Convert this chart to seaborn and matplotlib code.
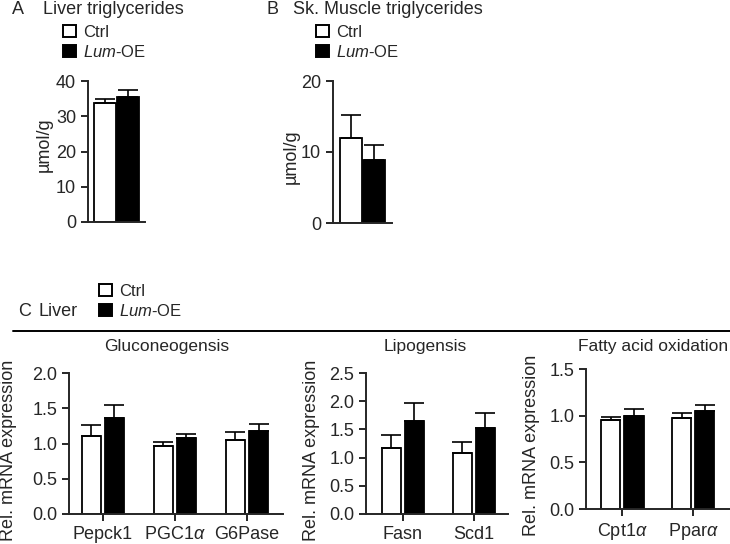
import pandas as pd
import seaborn as sns
import matplotlib.pyplot as plt
from matplotlib.lines import Line2D
from matplotlib.patches import Patch

# values (mean, upper SEM end)
groups = ['Ctrl', 'Lum-OE']

liver_tg = [33.8, 35.5]
liver_tg_err = [34.9, 37.5]

muscle_tg = [12.0, 8.9]
muscle_tg_err = [15.2, 11.0]

gluco_genes = ['Pepck1', 'PGC1$\\alpha$', 'G6Pase']
gluco_ctrl = [1.11, 0.97, 1.05]
gluco_ctrl_err = [1.26, 1.02, 1.16]
gluco_lum = [1.36, 1.08, 1.18]
gluco_lum_err = [1.54, 1.13, 1.28]

lipo_genes = ['Fasn', 'Scd1']
lipo_ctrl = [1.17, 1.08]
lipo_ctrl_err = [1.40, 1.28]
lipo_lum = [1.65, 1.52]
lipo_lum_err = [1.97, 1.79]

fao_genes = ['Cpt1$\\alpha$', 'Ppar$\\alpha$']
fao_ctrl = [0.95, 0.98]
fao_ctrl_err = [0.99, 1.03]
fao_lum = [1.00, 1.05]
fao_lum_err = [1.07, 1.11]

sns.set_style('ticks')
plt.rcParams['font.family'] = ['Liberation Sans', 'DejaVu Sans']
plt.rcParams['mathtext.fontset'] = 'custom'
plt.rcParams['mathtext.rm'] = 'Liberation Sans'
plt.rcParams['mathtext.it'] = 'Liberation Sans:italic'
plt.rcParams['axes.linewidth'] = 1.4
plt.rcParams['xtick.major.width'] = 1.4
plt.rcParams['ytick.major.width'] = 1.4
plt.rcParams['xtick.major.size'] = 5
plt.rcParams['ytick.major.size'] = 5
plt.rcParams['xtick.labelsize'] = 13
plt.rcParams['ytick.labelsize'] = 13

W, H = 730, 544
fig = plt.figure(figsize=(7.3, 5.44), dpi=100)


def px_axes(left, top, right, bottom):
    return fig.add_axes([left / W, 1 - bottom / H, (right - left) / W, (bottom - top) / H])


def px_text(x, y, s, **kw):
    kw.setdefault('fontsize', 13)
    return fig.text(x / W, 1 - y / H, s, **kw)


def make_frame(genes, ctrl, lum):
    return pd.DataFrame({
        'gene': genes * 2,
        'group': ['Ctrl'] * len(genes) + ['Lum-OE'] * len(genes),
        'value': ctrl + lum,
    })


def bars(ax, df, tops, width, gap):
    sns.barplot(data=df, x='gene', y='value', hue='group', hue_order=groups,
                palette=['white', 'black'], edgecolor='black', linewidth=1.3,
                width=width, gap=gap, errorbar=None, legend=False, ax=ax)
    for cont, top in zip(ax.containers, tops):
        xs = [p.get_x() + p.get_width() / 2 for p in cont]
        ys = [p.get_height() for p in cont]
        up = [t - y for t, y in zip(top, ys)]
        ax.errorbar(xs, ys, yerr=[[0] * len(ys), up], fmt='none', ecolor='black',
                    elinewidth=1.2, capsize=7.5, capthick=1.2, zorder=1)
    sns.despine(ax=ax)
    ax.set_xlabel('')
    ax.set_ylabel('')


def legend(ax, x, y):
    handles = [Patch(facecolor='white', edgecolor='black', linewidth=1.4),
               Patch(facecolor='black', edgecolor='black', linewidth=1.4)]
    ax.legend(handles, ['Ctrl', '$\\it{Lum}$-OE'], loc='upper left',
              bbox_to_anchor=(x / W, 1 - y / H), bbox_transform=fig.transFigure,
              frameon=False, fontsize=12, handlelength=0.75, handleheight=0.75,
              handletextpad=0.45, labelspacing=0.22, borderpad=0, borderaxespad=0)


# A: liver triglycerides
axA = px_axes(88, 81, 145, 222)
bars(axA, make_frame([''], liver_tg[:1], liver_tg[1:]),
     [liver_tg_err[:1], liver_tg_err[1:]], 0.8, 0.08)
axA.set_xlim(-0.485, 0.485)
axA.set_ylim(0, 40)
axA.set_yticks([0, 10, 20, 30, 40])
axA.set_xticks([])
px_text(44, 145, 'µmol/g', rotation=90, ha='center', va='center')
legend(axA, 63, 25)
px_text(12, 13.5, 'A', va='baseline')
px_text(43, 13.5, 'Liver triglycerides', va='baseline')

# B: skeletal muscle triglycerides
axB = px_axes(333, 81, 392, 223)
bars(axB, make_frame([''], muscle_tg[:1], muscle_tg[1:]),
     [muscle_tg_err[:1], muscle_tg_err[1:]], 0.8, 0.08)
axB.set_xlim(-0.5, 0.5)
axB.set_ylim(0, 20)
axB.set_yticks([0, 10, 20])
axB.set_xticks([])
px_text(291, 157, 'µmol/g', rotation=90, ha='center', va='center')
legend(axB, 316, 25)
px_text(266, 13.5, 'B', va='baseline')
px_text(293, 13.5, 'Sk. Muscle triglycerides', va='baseline')

# C: liver gene expression
px_text(18, 316, 'C', va='baseline')
px_text(38, 316, 'Liver', va='baseline')
fig.add_artist(Line2D([13 / W, 1], [1 - 331 / H] * 2, color='black', lw=1.4))

ax1 = px_axes(69, 373, 283, 514)
bars(ax1, make_frame(gluco_genes, gluco_ctrl, gluco_lum),
     [gluco_ctrl_err, gluco_lum_err], 0.64, 0.15)
ax1.set_xlim(-0.47, 2.5)
ax1.set_ylim(0, 2.0)
ax1.set_yticks([0, 0.5, 1.0, 1.5, 2.0])
ax1.set_yticklabels(['0.0', '0.5', '1.0', '1.5', '2.0'])
px_text(9, 450, 'Rel. mRNA expression', rotation=90, ha='center', va='center')
legend(ax1, 99, 284)
px_text(167, 351, 'Gluconeogensis', fontsize=12.5, ha='center', va='baseline')

ax2 = px_axes(366, 373, 508, 514)
bars(ax2, make_frame(lipo_genes, lipo_ctrl, lipo_lum),
     [lipo_ctrl_err, lipo_lum_err], 0.65, 0.15)
ax2.set_xlim(-0.52, 1.48)
ax2.set_ylim(0, 2.5)
ax2.set_yticks([0, 0.5, 1.0, 1.5, 2.0, 2.5])
ax2.set_yticklabels(['0.0', '0.5', '1.0', '1.5', '2.0', '2.5'])
px_text(311, 450, 'Rel. mRNA expression', rotation=90, ha='center', va='center')
px_text(425, 351, 'Lipogensis', fontsize=12.5, ha='center', va='baseline')

ax3 = px_axes(586, 369, 730, 509)
bars(ax3, make_frame(fao_genes, fao_ctrl, fao_lum),
     [fao_ctrl_err, fao_lum_err], 0.65, 0.15)
ax3.set_xlim(-0.51, 1.52)
ax3.set_ylim(0, 1.5)
ax3.set_yticks([0, 0.5, 1.0, 1.5])
ax3.set_yticklabels(['0.0', '0.5', '1.0', '1.5'])
px_text(532, 445, 'Rel. mRNA expression', rotation=90, ha='center', va='center')
px_text(653, 351, 'Fatty acid oxidation', fontsize=12.5, ha='center', va='baseline')

fig.savefig('out.png', dpi=100)
